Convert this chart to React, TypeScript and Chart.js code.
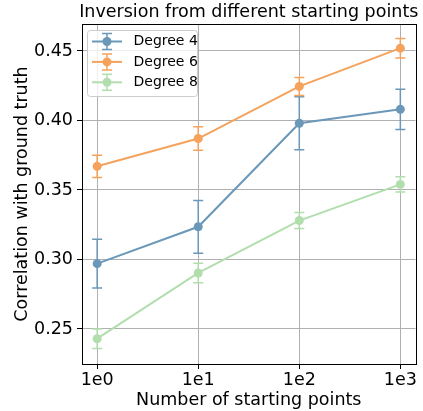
import React, { useEffect, useRef } from "react";
import { Chart, registerables } from "chart.js";

Chart.register(...registerables);

// Number of starting points (log-spaced categories)
const xLabels = ["1e0", "1e1", "1e2", "1e3"];
const yTicks = [0.25, 0.3, 0.35, 0.4, 0.45];

// Mean correlation with ground truth, with error-bar half-widths
const degree4 = [0.297, 0.3235, 0.398, 0.408];
const degree4Err = [0.0175, 0.019, 0.019, 0.0145];
const degree6 = [0.367, 0.387, 0.4245, 0.452];
const degree6Err = [0.008, 0.0085, 0.0065, 0.007];
const degree8 = [0.243, 0.2903, 0.328, 0.354];
const degree8Err = [0.007, 0.007, 0.0058, 0.0055];

const seriesNames = ["Degree 4", "Degree 6", "Degree 8"];
const seriesColors = ["#6b98b9", "#f5a25d", "#b2deae"];

const FONT = "DejaVu Sans";
const TITLE = "Inversion from different starting points";

const errorBarPlugin = {
  id: "errorBars",
  beforeDatasetDraw(chart: any, args: any) {
    const ds = chart.data.datasets[args.index];
    const errs: number[] | undefined = ds.errors;
    if (!errs) return;
    const xs = chart.scales.x;
    const ys = chart.scales.y;
    const ctx = chart.ctx;
    ctx.save();
    ctx.strokeStyle = ds.borderColor;
    ctx.lineWidth = 1.5;
    ds.data.forEach((pt: any, i: number) => {
      const px = xs.getPixelForValue(pt.x);
      const top = ys.getPixelForValue(pt.y + errs[i]);
      const bot = ys.getPixelForValue(pt.y - errs[i]);
      ctx.beginPath();
      ctx.moveTo(px, top);
      ctx.lineTo(px, bot);
      ctx.moveTo(px - 5, top);
      ctx.lineTo(px + 5, top);
      ctx.moveTo(px - 5, bot);
      ctx.lineTo(px + 5, bot);
      ctx.stroke();
    });
    ctx.restore();
  },
};

const framePlugin = {
  id: "frameTitleLegend",
  afterDatasetsDraw(chart: any) {
    const { ctx, chartArea: a } = chart;
    ctx.save();
    ctx.strokeStyle = "#000";
    ctx.lineWidth = 1;
    ctx.strokeRect(
      Math.round(a.left) + 0.5,
      Math.round(a.top) + 0.5,
      Math.round(a.right - a.left),
      Math.round(a.bottom - a.top)
    );
    ctx.restore();
  },
  afterDraw(chart: any) {
    const { ctx, chartArea: a } = chart;
    ctx.save();
    // title
    ctx.fillStyle = "#000";
    ctx.font = `17.5px '${FONT}'`;
    ctx.textAlign = "center";
    ctx.textBaseline = "alphabetic";
    ctx.fillText(TITLE, (a.left + a.right) / 2, 17);

    // legend
    const bx = a.left + 5;
    const by = a.top + 6;
    const bw = 110;
    const bh = 66;
    ctx.beginPath();
    ctx.roundRect(bx + 0.5, by + 0.5, bw, bh, 3);
    ctx.fillStyle = "rgba(255,255,255,0.8)";
    ctx.fill();
    ctx.strokeStyle = "#cccccc";
    ctx.lineWidth = 1;
    ctx.stroke();

    ctx.font = `14px '${FONT}'`;
    ctx.textAlign = "left";
    ctx.textBaseline = "middle";
    chart.data.datasets.forEach((ds: any, i: number) => {
      const cy = by + 11.5 + i * 20.4;
      const x0 = bx + 5;
      const x1 = bx + 35;
      const cx = (x0 + x1) / 2;
      ctx.strokeStyle = ds.borderColor;
      ctx.lineWidth = 1.5;
      ctx.beginPath();
      ctx.moveTo(cx, cy - 8);
      ctx.lineTo(cx, cy + 8);
      ctx.moveTo(cx - 5, cy - 8);
      ctx.lineTo(cx + 5, cy - 8);
      ctx.moveTo(cx - 5, cy + 8);
      ctx.lineTo(cx + 5, cy + 8);
      ctx.stroke();
      ctx.lineWidth = 2;
      ctx.beginPath();
      ctx.moveTo(x0, cy);
      ctx.lineTo(x1, cy);
      ctx.stroke();
      ctx.fillStyle = ds.borderColor;
      ctx.beginPath();
      ctx.arc(cx, cy, 4.5, 0, Math.PI * 2);
      ctx.fill();
      ctx.fillStyle = "#000";
      ctx.fillText(ds.label, bx + 46.5, cy);
    });
    ctx.restore();
  },
};

export default function App() {
  const ref = useRef<HTMLCanvasElement | null>(null);

  useEffect(() => {
    if (!ref.current) return;
    const values = [degree4, degree6, degree8];
    const errors = [degree4Err, degree6Err, degree8Err];
    const chart = new Chart(ref.current, {
      type: "line",
      data: {
        datasets: values.map((vals, k) => ({
          label: seriesNames[k],
          data: vals.map((v, i) => ({ x: i, y: v })),
          errors: errors[k],
          borderColor: seriesColors[k],
          backgroundColor: seriesColors[k],
          pointBackgroundColor: seriesColors[k],
          pointBorderWidth: 0,
          pointRadius: 4.5,
          borderWidth: 2,
          tension: 0,
          order: 3 - k,
        })) as any,
      },
      options: {
        animation: false,
        responsive: false,
        events: [],
        layout: { padding: { top: 24, right: 7.5, bottom: 0, left: 0 } },
        plugins: {
          legend: { display: false },
          title: { display: false },
          tooltip: { enabled: false },
        },
        scales: {
          x: {
            type: "linear",
            min: -0.15,
            max: 3.15,
            afterBuildTicks: (s: any) => {
              s.ticks = xLabels.map((_, i) => ({ value: i }));
            },
            afterFit: (s: any) => {
              s.height = 47;
              s.paddingLeft = 0;
              s.paddingRight = 0;
            },
            ticks: {
              autoSkip: false,
              maxRotation: 0,
              padding: 1,
              color: "#000",
              font: { family: FONT, size: 17.5 },
              callback: (v: any) => xLabels[Math.round(Number(v))] ?? "",
            },
            grid: {
              color: "#b0b0b0",
              lineWidth: 1,
              tickLength: 5,
              tickColor: "#000",
            },
            border: { display: false },
            title: {
              display: true,
              text: "Number of starting points",
              color: "#000",
              font: { family: FONT, size: 17.5 },
              padding: { top: 0, bottom: 0.5 },
            },
          },
          y: {
            type: "linear",
            min: 0.2248,
            max: 0.4694,
            afterBuildTicks: (s: any) => {
              s.ticks = yTicks.map((v) => ({ value: v }));
            },
            afterFit: (s: any) => {
              s.width = 82;
              s.paddingTop = 0;
              s.paddingBottom = 0;
            },
            ticks: {
              padding: 4,
              color: "#000",
              font: { family: FONT, size: 17.5 },
              callback: (v: any) => Number(v).toFixed(2),
            },
            grid: {
              color: "#b0b0b0",
              lineWidth: 1,
              tickLength: 5,
              tickColor: "#000",
            },
            border: { display: false },
            title: {
              display: true,
              text: "Correlation with ground truth",
              color: "#000",
              font: { family: FONT, size: 17.5 },
              padding: { top: 11.5, bottom: 0 },
            },
          },
        },
      },
      plugins: [errorBarPlugin, framePlugin],
    });
    return () => chart.destroy();
  }, []);

  return (
    <div style={{ position: "absolute", left: 0, top: 0, width: 423, height: 411, background: "#fff" }}>
      <canvas ref={ref} width={423} height={411} />
    </div>
  );
}
